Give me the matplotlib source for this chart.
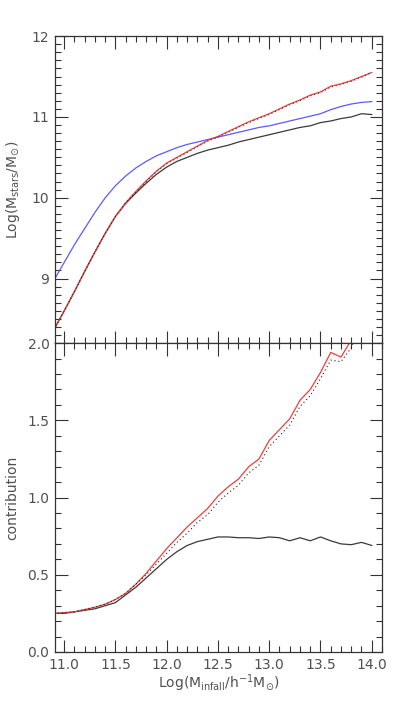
import numpy as np
import matplotlib
matplotlib.use("Agg")
import matplotlib.pyplot as plt
from matplotlib.ticker import MultipleLocator

plt.rcParams["mathtext.default"] = "regular"
plt.rcParams["font.family"] = "DejaVu Sans"

# ── data ─────────────────────────────────────────────────────────────────────
log_minfall = np.round(np.arange(10.9, 14.01, 0.1), 1)

# upper panel: Log(M_stars / M_sun)
mstar_black = [8.37, 8.60, 8.84, 9.09, 9.33, 9.56, 9.77, 9.93, 10.06, 10.18,
               10.29, 10.38, 10.45, 10.50, 10.55, 10.59, 10.62, 10.65, 10.69, 10.72,
               10.75, 10.78, 10.81, 10.84, 10.87, 10.89, 10.93, 10.95, 10.98, 11.00,
               11.04, 11.03]
mstar_red = [8.37, 8.60, 8.84, 9.09, 9.33, 9.56, 9.77, 9.94, 10.08, 10.21,
             10.33, 10.43, 10.50, 10.57, 10.64, 10.71, 10.76, 10.82, 10.88, 10.94,
             10.99, 11.04, 11.10, 11.16, 11.21, 11.27, 11.31, 11.38, 11.41, 11.45,
             11.50, 11.55]
mstar_dotted = [8.37, 8.60, 8.84, 9.09, 9.33, 9.56, 9.77, 9.94, 10.07, 10.20,
                10.32, 10.42, 10.49, 10.56, 10.63, 10.70, 10.75, 10.81, 10.87, 10.93,
                10.98, 11.03, 11.09, 11.15, 11.20, 11.26, 11.30, 11.37, 11.40, 11.44,
                11.49, 11.55]
mstar_blue = [8.98, 9.20, 9.42, 9.62, 9.82, 10.00, 10.15, 10.27, 10.37, 10.45,
              10.52, 10.57, 10.62, 10.66, 10.69, 10.72, 10.75, 10.78, 10.81, 10.84,
              10.87, 10.89, 10.92, 10.95, 10.98, 11.01, 11.04, 11.09, 11.13, 11.16,
              11.18, 11.19]

# lower panel: contribution
contrib_black = [0.25, 0.25, 0.26, 0.27, 0.28, 0.30, 0.32, 0.37, 0.42, 0.48,
                 0.54, 0.60, 0.65, 0.69, 0.715, 0.73, 0.745, 0.745, 0.74, 0.74,
                 0.735, 0.745, 0.74, 0.72, 0.74, 0.72, 0.745, 0.72, 0.70, 0.695,
                 0.71, 0.69]
contrib_red = [0.25, 0.255, 0.26, 0.275, 0.29, 0.31, 0.34, 0.38, 0.44, 0.51,
               0.59, 0.67, 0.74, 0.81, 0.87, 0.93, 1.01, 1.07, 1.12, 1.20,
               1.25, 1.37, 1.44, 1.51, 1.63, 1.70, 1.81, 1.94, 1.91, 2.02,
               2.18, 2.30]
contrib_dotted = [0.25, 0.255, 0.26, 0.275, 0.29, 0.31, 0.34, 0.38, 0.44, 0.50,
                  0.57, 0.64, 0.71, 0.77, 0.84, 0.89, 0.97, 1.03, 1.08, 1.16,
                  1.21, 1.33, 1.40, 1.47, 1.59, 1.66, 1.77, 1.89, 1.88, 1.97,
                  2.14, 2.26]

# ── figure ───────────────────────────────────────────────────────────────────
fig = plt.figure(figsize=(3.93, 7.09), dpi=100)
ax1 = fig.add_axes([0.140, 0.516, 0.832, 0.433])
ax2 = fig.add_axes([0.140, 0.0804, 0.832, 0.4356], sharex=ax1)

text_col = "#505050"
red = "#f03c3c"
blue = "#5a5aff"
lw = 0.9

ax1.plot(log_minfall, mstar_blue, color=blue, lw=lw)
ax1.plot(log_minfall, mstar_black, color="#3a3a3a", lw=lw)
ax1.plot(log_minfall, mstar_red, color=red, lw=lw)
ax1.plot(log_minfall, mstar_dotted, color="#222222", lw=0.7, ls=(0, (1, 3)))

ax2.plot(log_minfall, contrib_black, color="#3a3a3a", lw=lw)
ax2.plot(log_minfall, contrib_red, color=red, lw=lw)
ax2.plot(log_minfall, contrib_dotted, color="#222222", lw=0.8, ls=(0, (1, 2.5)))

ax1.set_xlim(10.91, 14.1)
ax1.set_ylim(8.2, 12.0)
ax2.set_ylim(0.0, 2.0)

ax1.xaxis.set_major_locator(MultipleLocator(0.5))
ax1.xaxis.set_minor_locator(MultipleLocator(0.1))
ax1.yaxis.set_major_locator(MultipleLocator(1.0))
ax1.yaxis.set_minor_locator(MultipleLocator(0.1))
ax2.yaxis.set_major_locator(MultipleLocator(0.5))
ax2.yaxis.set_minor_locator(MultipleLocator(0.1))

for ax in (ax1, ax2):
    ax.tick_params(which="both", direction="in", top=True, right=True,
                   colors="#333333", labelcolor=text_col, labelsize=10, width=0.8)
    ax.tick_params(which="major", length=9, pad=4)
    ax.tick_params(which="minor", length=4.5)
    for s in ax.spines.values():
        s.set_color("#333333")
        s.set_linewidth(0.9)

ax1.tick_params(labelbottom=False)
ax1.set_yticks([9, 10, 11, 12])
ax1.set_yticklabels(["9", "10", "11", "12"])
ax2.set_yticks([0.0, 0.5, 1.0, 1.5, 2.0])
ax2.set_yticklabels(["0.0", "0.5", "1.0", "1.5", "2.0"])
ax2.set_xticks([11.0, 11.5, 12.0, 12.5, 13.0, 13.5, 14.0])
ax2.set_xticklabels(["11.0", "11.5", "12.0", "12.5", "13.0", "13.5", "14.0"])

ax1.set_ylabel(r"Log(M$_{stars}$/M$_{\odot}$)", color=text_col, fontsize=10)
ax1.yaxis.set_label_coords(-0.10, 0.5)
ax2.set_ylabel("contribution", color=text_col, fontsize=10)
ax2.yaxis.set_label_coords(-0.11, 0.5)
ax2.set_xlabel(r"Log(M$_{infall}$/h$^{-1}$M$_{\odot}$)", color=text_col, fontsize=10,
               labelpad=1)

fig.savefig("out.png", dpi=100)
